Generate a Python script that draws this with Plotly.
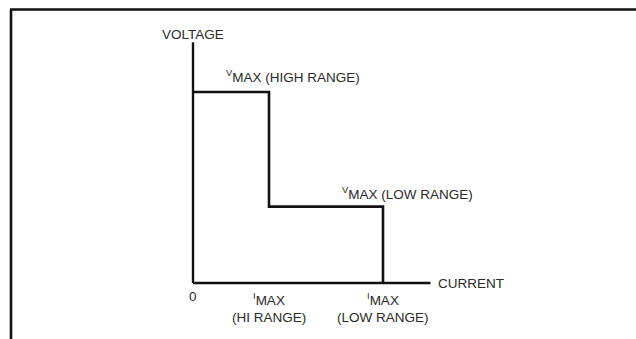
import plotly.graph_objects as go

# Output characteristic of the supply (normalised units)
current_pts = [0.0, 0.4, 0.4, 1.0, 1.0]
voltage_pts = [1.0, 1.0, 0.4, 0.4, 0.0]

# Axis extents
x_axis_end = 1.25
y_axis_end = 1.26

# Pixel geometry of the canvas
W, H = 636, 339
x0_px, y0_px = 193, 283      # origin position in pixels
sx, sy = 190.0, 191.0        # pixels per unit

x_range = [-x0_px / sx, (W - x0_px) / sx]
y_range = [-(H - y0_px) / sy, y0_px / sy]

LINE = "#111111"
TEXT = "#2a2a2a"
FONT = "Liberation Sans, Arial, sans-serif"

fig = go.Figure()

# Axes
fig.add_trace(go.Scatter(x=[0, x_axis_end], y=[0, 0], mode="lines",
                         line=dict(color=LINE, width=2.4), hoverinfo="skip"))
fig.add_trace(go.Scatter(x=[0, 0], y=[0, y_axis_end], mode="lines",
                         line=dict(color=LINE, width=2.4), hoverinfo="skip"))
# V/I limit curve
fig.add_trace(go.Scatter(x=current_pts, y=voltage_pts, mode="lines",
                         line=dict(color=LINE, width=2.6, shape="linear"),
                         hoverinfo="skip"))

def label(x, y, text, xanchor="center", size=13.5):
    fig.add_annotation(x=x, y=y, xref="x", yref="y", text=text,
                       showarrow=False, xanchor=xanchor, yanchor="middle",
                       font=dict(family=FONT, size=size, color=TEXT))

label(0.0, 1.30, "VOLTAGE")
label(0.165, 1.085, "<sup>V</sup>MAX (HIGH RANGE)", xanchor="left")
label(0.772, 0.472, "<sup>V</sup>MAX (LOW RANGE)", xanchor="left")
label(1.28, 0.0, "CURRENT", xanchor="left")
label(0.0, -0.073, "0")
label(0.4, -0.085, "<sup>I</sup>MAX")
label(0.4, -0.18, "(HI RANGE)")
label(1.0, -0.085, "<sup>I</sup>MAX")
label(1.0, -0.18, "(LOW RANGE)")

# Frame: left and top rules
fig.add_shape(type="line", xref="paper", yref="paper",
              x0=11 / W, x1=11 / W, y0=1 - 9.5 / H, y1=0,
              line=dict(color=LINE, width=2.6))
fig.add_shape(type="line", xref="paper", yref="paper",
              x0=10 / W, x1=1, y0=1 - 9.5 / H, y1=1 - 9.5 / H,
              line=dict(color=LINE, width=2.6))

fig.update_layout(
    width=W, height=H,
    margin=dict(l=0, r=0, t=0, b=0),
    paper_bgcolor="white", plot_bgcolor="white",
    showlegend=False,
    xaxis=dict(range=x_range, visible=False, fixedrange=True),
    yaxis=dict(range=y_range, visible=False, fixedrange=True),
)

fig.write_html("out.html")
